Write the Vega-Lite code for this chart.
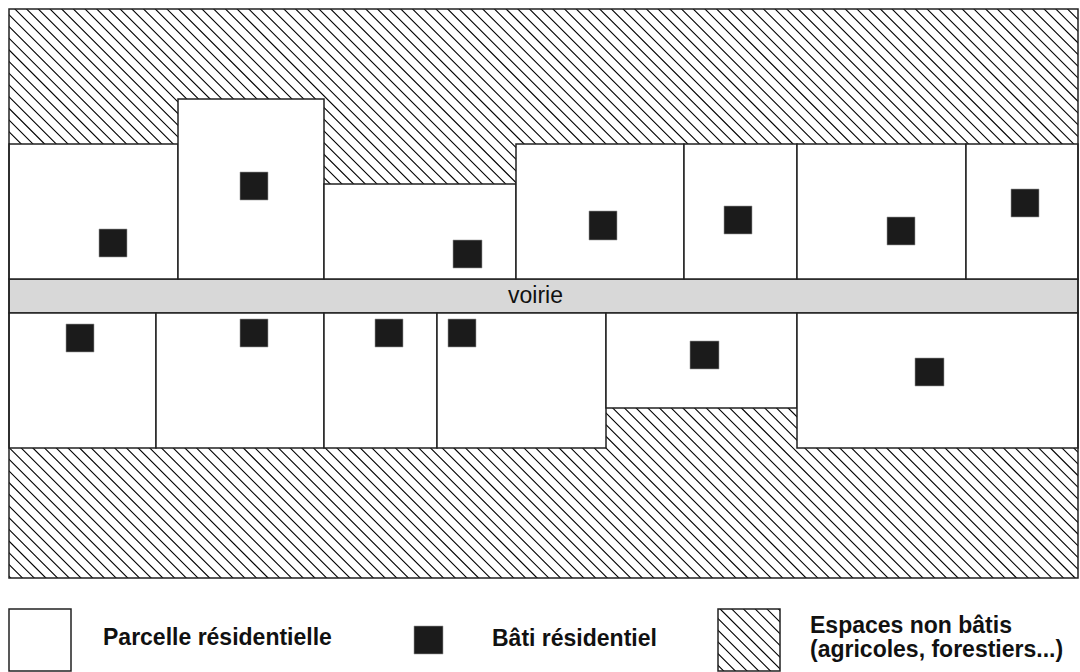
{
  "$schema": "https://vega.github.io/schema/vega-lite/v6.json",
  "width": 1080,
  "height": 672,
  "padding": 0,
  "autosize": {"type": "none"},
  "background": "white",
  "config": {"view": {"stroke": null}},
  "datasets": {
    "hatch": [{"x": -460, "y": 1336}, {"x": 1540, "y": -664}],
    "cover": [
      {"x": 0, "x2": 1080, "y": 0, "y2": 9},
      {"x": 0, "x2": 9, "y": 0, "y2": 672},
      {"x": 1078, "x2": 1080, "y": 0, "y2": 672},
      {"x": 0, "x2": 718, "y": 578, "y2": 672},
      {"x": 780, "x2": 1080, "y": 578, "y2": 672},
      {"x": 718, "x2": 780, "y": 578, "y2": 609},
      {"x": 718, "x2": 780, "y": 671, "y2": 672}
    ],
    "road": [{"x": 9, "x2": 1078, "y": 279, "y2": 313}],
    "parcels": [
      {"x": 9, "x2": 178, "y": 144, "y2": 279},
      {"x": 178, "x2": 324, "y": 99, "y2": 279},
      {"x": 324, "x2": 516, "y": 184, "y2": 279},
      {"x": 516, "x2": 684, "y": 144, "y2": 279},
      {"x": 684, "x2": 797, "y": 144, "y2": 279},
      {"x": 797, "x2": 966, "y": 144, "y2": 279},
      {"x": 966, "x2": 1078, "y": 144, "y2": 279},
      {"x": 9, "x2": 156, "y": 313, "y2": 448},
      {"x": 156, "x2": 324, "y": 313, "y2": 448},
      {"x": 324, "x2": 437, "y": 313, "y2": 448},
      {"x": 437, "x2": 606, "y": 313, "y2": 448},
      {"x": 606, "x2": 797, "y": 313, "y2": 408},
      {"x": 797, "x2": 1078, "y": 313, "y2": 448},
      {"x": 9, "x2": 71, "y": 609, "y2": 671}
    ],
    "frames": [
      {"x": 9, "x2": 1078, "y": 9, "y2": 578},
      {"x": 718, "x2": 780, "y": 609, "y2": 671}
    ],
    "buildings": [
      {"x": 99, "x2": 127, "y": 229, "y2": 257},
      {"x": 240, "x2": 268, "y": 172, "y2": 200},
      {"x": 453, "x2": 482, "y": 240, "y2": 268},
      {"x": 589, "x2": 617, "y": 211, "y2": 240},
      {"x": 724, "x2": 752, "y": 206, "y2": 234},
      {"x": 887, "x2": 915, "y": 217, "y2": 245},
      {"x": 1011, "x2": 1039, "y": 189, "y2": 217},
      {"x": 66, "x2": 94, "y": 324, "y2": 352},
      {"x": 240, "x2": 268, "y": 319, "y2": 347},
      {"x": 375, "x2": 403, "y": 319, "y2": 347},
      {"x": 448, "x2": 476, "y": 319, "y2": 347},
      {"x": 690, "x2": 719, "y": 341, "y2": 369},
      {"x": 915, "x2": 944, "y": 358, "y2": 386},
      {"x": 414, "x2": 443, "y": 626, "y2": 654}
    ],
    "legendText": [
      {"x": 103, "y": 645, "label": "Parcelle résidentielle"},
      {"x": 492, "y": 646, "label": "Bâti résidentiel"},
      {"x": 810, "y": 632.5, "label": "Espaces non bâtis"},
      {"x": 810, "y": 657, "label": "(agricoles, forestiers...)"}
    ],
    "roadText": [{"x": 535.5, "y": 303, "label": "voirie"}]
  },
  "layer": [
    {
      "data": {"name": "hatch"},
      "mark": {"type": "line", "stroke": "#000", "strokeWidth": 1600, "strokeDash": [1.1, 7.17], "strokeCap": "butt", "clip": true},
      "encoding": {
        "x": {"field": "x", "type": "quantitative", "scale": {"domain": [0, 1080], "nice": false, "zero": false}, "axis": null},
        "y": {"field": "y", "type": "quantitative", "scale": {"domain": [0, 672], "nice": false, "zero": false, "reverse": true}, "axis": null}
      }
    },
    {
      "data": {"name": "cover"},
      "mark": {"type": "rect", "fill": "white", "strokeWidth": 0},
      "encoding": {
        "x": {"field": "x", "type": "quantitative", "axis": null},
        "x2": {"field": "x2"},
        "y": {"field": "y", "type": "quantitative", "axis": null},
        "y2": {"field": "y2"}
      }
    },
    {
      "data": {"name": "road"},
      "mark": {"type": "rect", "fill": "#d8d8d8", "stroke": "#222", "strokeWidth": 1.5},
      "encoding": {
        "x": {"field": "x", "type": "quantitative", "axis": null},
        "x2": {"field": "x2"},
        "y": {"field": "y", "type": "quantitative", "axis": null},
        "y2": {"field": "y2"}
      }
    },
    {
      "data": {"name": "parcels"},
      "mark": {"type": "rect", "fill": "white", "stroke": "#222", "strokeWidth": 1.5},
      "encoding": {
        "x": {"field": "x", "type": "quantitative", "axis": null},
        "x2": {"field": "x2"},
        "y": {"field": "y", "type": "quantitative", "axis": null},
        "y2": {"field": "y2"}
      }
    },
    {
      "data": {"name": "frames"},
      "mark": {"type": "rect", "fill": null, "fillOpacity": 0, "stroke": "#222", "strokeWidth": 1.5},
      "encoding": {
        "x": {"field": "x", "type": "quantitative", "axis": null},
        "x2": {"field": "x2"},
        "y": {"field": "y", "type": "quantitative", "axis": null},
        "y2": {"field": "y2"}
      }
    },
    {
      "data": {"name": "buildings"},
      "mark": {"type": "rect", "fill": "#1b1b1b", "stroke": "#9a9a9a", "strokeWidth": 0.6},
      "encoding": {
        "x": {"field": "x", "type": "quantitative", "axis": null},
        "x2": {"field": "x2"},
        "y": {"field": "y", "type": "quantitative", "axis": null},
        "y2": {"field": "y2"}
      }
    },
    {
      "data": {"name": "legendText"},
      "mark": {"type": "text", "align": "left", "baseline": "alphabetic", "font": "Liberation Sans", "fontSize": 23, "fontWeight": "bold", "color": "#111"},
      "encoding": {
        "x": {"field": "x", "type": "quantitative", "axis": null},
        "y": {"field": "y", "type": "quantitative", "axis": null},
        "text": {"field": "label"}
      }
    },
    {
      "data": {"name": "roadText"},
      "mark": {"type": "text", "align": "center", "baseline": "alphabetic", "font": "Liberation Sans", "fontSize": 23, "fontWeight": "normal", "color": "#111"},
      "encoding": {
        "x": {"field": "x", "type": "quantitative", "axis": null},
        "y": {"field": "y", "type": "quantitative", "axis": null},
        "text": {"field": "label"}
      }
    }
  ]
}
